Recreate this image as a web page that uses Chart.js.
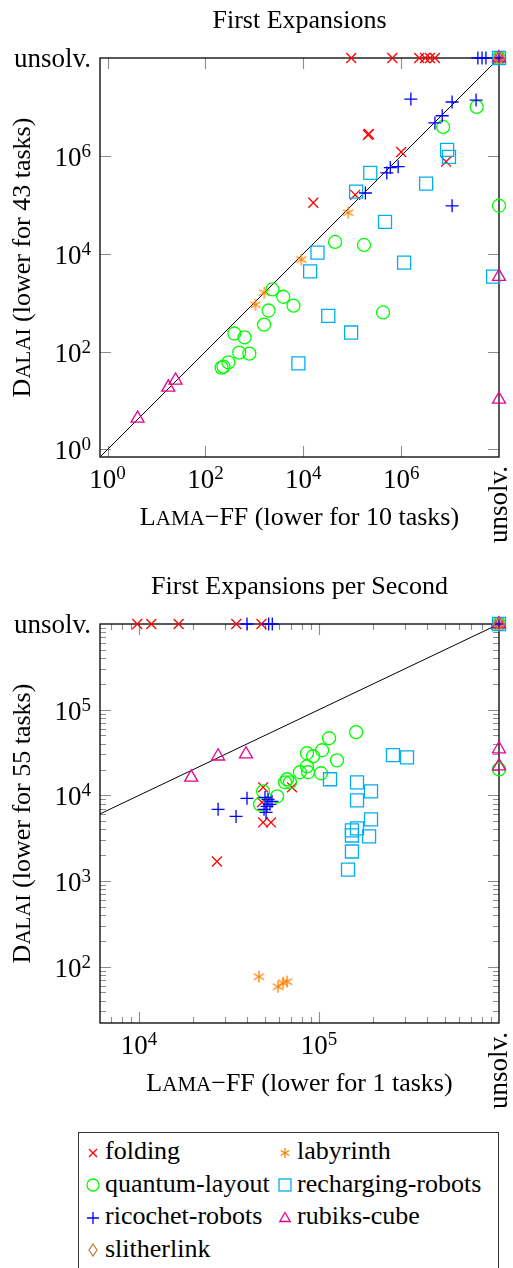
<!DOCTYPE html>
<html>
<head>
<meta charset="utf-8">
<script src="https://cdn.jsdelivr.net/npm/chart.js@4.4.1/dist/chart.umd.min.js"></script>
<style>
  html, body { margin: 0; padding: 0; background: #fff; }
  body { width: 513px; height: 1268px; position: relative; overflow: hidden; font-family: 'Liberation Serif', 'Times New Roman', serif; }
  canvas { position: absolute; left: 0; }
  #fe { top: 0; }
  #fps { top: 565px; }
  #legend { position: absolute; left: 78px; top: 1132px; width: 419px; height: 150px; border: 1px solid #333; }
  .item { position: absolute; font-size: 26px; line-height: 26px; white-space: nowrap; color: #000; }
  .item svg { position: absolute; overflow: visible; }
</style>
</head>
<body>
<canvas id="fe" width="513" height="565"></canvas>
<canvas id="fps" width="513" height="560"></canvas>
<div id="legend"></div>
<script>
// where "unsolv." sits on the log axes
const U1 = 1e8;   // first expansions
const U2 = 1e6;   // first expansions per second

// [Lama-FF, Dalai] pairs, first expansions
const expFolding = [[95500, U1], [661000, U1], [2.34e6, U1], [3.09e6, U1], [3.89e6, U1], [4.9e6, U1],
  [2.1e5, 2.7e6], [2.2e5, 2.8e6], [1.0e6, 1.2e6], [8.3e6, 7.6e5], [1.15e5, 1.6e5], [1.6e4, 1.1e5], [U1, U1]];
const expLabyrinth = [[8.3e4, 6.9e4], [9100, 7600], [1600, 1600], [1050, 910], [U1, U1]];
const expQuantum = [[2340, 1860], [3890, 1320], [6300, 870], [1950, 690], [1580, 355], [390, 234], [630, 195],
  [490, 95], [790, 91], [295, 60], [234, 49], [214, 47], [44700, 17400], [174000, 15100], [427000, 630],
  [7.2e6, 3.9e6], [3.5e7, 1.0e7], [U1, 95500], [U1, U1]];
const expRecharging = [[2.34e5, 4.47e5], [1.2e5, 1.86e5], [8.7e6, 1.32e6], [9.5e6, 9.5e5], [3.24e6, 2.7e5],
  [4.68e5, 4.47e4], [1.95e4, 1.05e4], [1.38e4, 4370], [1.15e6, 6600], [7.6e7, 3390], [3.24e4, 537],
  [9.5e4, 245], [7940, 57.5], [U1, U1]];
const expRicochet = [[3.7e7, U1], [4.5e7, U1], [5.4e7, U1], [1.58e6, 1.45e7], [1.1e7, 1.26e7], [3.4e7, 1.38e7],
  [6.9e6, 6.6e6], [4.9e6, 4.7e6], [8.7e5, 6.0e5], [6.0e5, 5.75e5], [5.1e5, 4.47e5], [1.86e5, 1.74e5],
  [1.1e7, 9.5e4], [U1, U1]];
const expRubiks = [[4.1, 4.3], [17.4, 18.6], [24.5, 25.7], [U1, 3390], [U1, 10.5], [U1, U1]];
const expSlitherlink = [[U1, U1]];

// [Lama-FF, Dalai] pairs, first expansions per second
const rateFolding = [[9770, U2], [11700, U2], [16600, U2], [34700, U2], [47900, U2], [48900, 12400],
  [48200, 8280], [48900, 4830], [54100, 4830], [70800, 12400], [27100, 1690], [U2, U2]];
const rateLabyrinth = [[46400, 76.4], [59200, 58.3], [63100, 65], [66400, 66.8], [U2, U2]];
const rateQuantum = [[160700, 54600], [113700, 46400], [104000, 33600], [92700, 28600], [85700, 31000],
  [125900, 25600], [85700, 21800], [78300, 18600], [86900, 18600], [102600, 18100], [66400, 15400],
  [64700, 14200], [69000, 14200], [58500, 9730], [48900, 11100], [47000, 7850], [U2, 20100], [U2, U2]];
const rateRecharging = [[257600, 29400], [308300, 27800], [115100, 15400], [162600, 14200], [194500, 11100],
  [162600, 8750], [194500, 5240], [162600, 4110], [152400, 3900], [152400, 3400], [189700, 3310],
  [152400, 2210], [144900, 1360], [U2, U2]];
const rateRicochet = [[39800, U2], [52500, U2], [55000, U2], [27500, 6860], [34600, 5680], [39800, 9230],
  [50100, 9480], [52100, 8980], [54800, 8510], [51400, 7430], [49500, 6860], [53400, 7850], [50800, 6310], [U2, U2]];
const rateRubiks = [[27500, 28600], [39300, 30200], [19500, 16200], [U2, 34700], [U2, 21900], [U2, U2]];
const rateSlitherlink = [[U2, U2]];

// tick labels (powers of ten)
const expTicks = [1, 1e2, 1e4, 1e6];
const rateTicksX = [1e4, 1e5];
const rateTicksY = [1e2, 1e3, 1e4, 1e5];

const SERIF = "'Liberation Serif', 'Times New Roman', serif";
const FS = 26, SC = 21, TICK = 27, SUP = 19;

const SERIES = [
  { label: 'folding', style: 'crossRot', r: 7, color: '#ff0000' },
  { label: 'labyrinth', style: 'asterisk', r: 6, color: '#ff8000' },
  { label: 'quantum-layout', style: 'circle', r: 6.5, color: '#00ff00' },
  { label: 'recharging-robots', style: 'rect', r: 9.2, color: '#00aeef' },
  { label: 'ricochet-robots', style: 'cross', r: 6.5, color: '#0000ff' },
  { label: 'rubiks-cube', style: 'triangle', r: 7.5, color: '#ec008c' },
  { label: 'slitherlink', style: 'rectRot', r: 6, color: '#bf8040' }
];

function asteriskImg(color, r) {
  const c = document.createElement('canvas');
  const s = Math.ceil(r * 2 + 4);
  c.width = c.height = s;
  const g = c.getContext('2d');
  g.strokeStyle = color;
  g.lineWidth = 1.3;
  for (let k = 0; k < 3; k++) {
    const t = Math.PI / 2 + k * Math.PI / 3;
    g.beginPath();
    g.moveTo(s / 2 + r * Math.cos(t), s / 2 + r * Math.sin(t));
    g.lineTo(s / 2 - r * Math.cos(t), s / 2 - r * Math.sin(t));
    g.stroke();
  }
  return c;
}

function buildDatasets(lists, lo, hi) {
  const sets = SERIES.map((s, i) => ({
    label: s.label,
    data: lists[i].map(p => ({ x: p[0], y: p[1] })),
    pointStyle: s.style === 'asterisk' ? asteriskImg(s.color, s.r) : s.style,
    pointRadius: s.r,
    pointHoverRadius: s.r,
    borderColor: s.color,
    backgroundColor: 'rgba(0,0,0,0)',
    pointBorderWidth: 1.3,
    borderWidth: 1.3,
    order: SERIES.length - i,
    clip: false
  }));
  // y = x reference line
  sets.push({
    label: 'diagonal', data: [{ x: lo, y: lo }, { x: hi, y: hi }], showLine: true,
    borderColor: '#000', borderWidth: 1, pointRadius: 0, order: 20
  });
  return sets;
}

function minorTicks(lo, hi) {
  const out = [];
  for (let k = Math.floor(Math.log10(lo)); k <= Math.ceil(Math.log10(hi)); k++) {
    for (let m = 2; m <= 9; m++) {
      const v = m * Math.pow(10, k);
      if (v > lo && v < hi) out.push(v);
    }
  }
  return out;
}

function drawRuns(ctx, parts, x, y, align) {
  let w = 0;
  for (const p of parts) { ctx.font = p[1] + 'px ' + SERIF; w += ctx.measureText(p[0]).width; }
  let cx = align === 'center' ? x - w / 2 : align === 'right' ? x - w : x;
  ctx.textAlign = 'left';
  ctx.textBaseline = 'alphabetic';
  ctx.fillStyle = '#000';
  for (const p of parts) {
    ctx.font = p[1] + 'px ' + SERIF;
    ctx.fillText(p[0], cx, y - (p[2] || 0));
    cx += ctx.measureText(p[0]).width;
  }
}
const pow10 = v => [['10', TICK], [String(Math.round(Math.log10(v))), SUP, 9]];

function framePlugin(cfg) {
  return {
    id: 'frame',
    beforeDatasetsDraw(chart) {
      const { ctx, chartArea: a, scales: { x, y } } = chart;
      ctx.save();
      ctx.strokeStyle = '#8c8c8c';
      ctx.lineWidth = 1.1;
      const xs = cfg.xMajor.map(v => [v, 11]).concat(cfg.xMinor.map(v => [v, 6]));
      for (const [v, len] of xs) {
        const px = Math.round(x.getPixelForValue(v)) + 0.5;
        ctx.beginPath();
        ctx.moveTo(px, a.bottom); ctx.lineTo(px, a.bottom - len);
        ctx.moveTo(px, a.top); ctx.lineTo(px, a.top + len);
        ctx.stroke();
      }
      const ys = cfg.yMajor.map(v => [v, 11]).concat(cfg.yMinor.map(v => [v, 6]));
      for (const [v, len] of ys) {
        const py = Math.round(y.getPixelForValue(v)) + 0.5;
        ctx.beginPath();
        ctx.moveTo(a.left, py); ctx.lineTo(a.left + len, py);
        ctx.moveTo(a.right, py); ctx.lineTo(a.right - len, py);
        ctx.stroke();
      }
      ctx.strokeStyle = '#000';
      ctx.lineWidth = 1.3;
      ctx.strokeRect(a.left, a.top, a.right - a.left, a.bottom - a.top);
      ctx.restore();
    },
    afterDraw(chart) {
      const { ctx, chartArea: a, scales: { x, y } } = chart;
      ctx.save();
      drawRuns(ctx, [[cfg.title, FS]], (a.left + a.right) / 2, a.top - 30, 'center');
      for (const v of cfg.xMajor) drawRuns(ctx, pow10(v), x.getPixelForValue(v), a.bottom + 31, 'center');
      for (const v of cfg.yMajor) drawRuns(ctx, pow10(v), a.left - 9, y.getPixelForValue(v) + 10, 'right');
      drawRuns(ctx, [['unsolv.', TICK]], a.left - 9, y.getPixelForValue(cfg.unsolved) + 9, 'right');
      drawRuns(ctx, cfg.xTitle, (a.left + a.right) / 2, a.bottom + 68, 'center');
      // rotated labels
      ctx.save();
      ctx.translate(x.getPixelForValue(cfg.unsolved) + 8, a.bottom + 9);
      ctx.rotate(-Math.PI / 2);
      drawRuns(ctx, [['unsolv.', TICK]], 0, 0, 'right');
      ctx.restore();
      ctx.save();
      ctx.translate(30, (a.top + a.bottom) / 2);
      ctx.rotate(-Math.PI / 2);
      drawRuns(ctx, cfg.yTitle, 0, 0, 'center');
      ctx.restore();
      ctx.restore();
    }
  };
}

function makeChart(id, cfg) {
  return new Chart(document.getElementById(id), {
    type: 'scatter',
    data: { datasets: buildDatasets(cfg.lists, cfg.lineLo, cfg.unsolved) },
    options: {
      responsive: false,
      animation: false,
      events: [],
      layout: { padding: cfg.padding },
      scales: {
        x: { type: 'logarithmic', min: cfg.xMin, max: cfg.unsolved, display: false },
        y: { type: 'logarithmic', min: cfg.yMin, max: cfg.unsolved, display: false }
      },
      plugins: { legend: { display: false }, tooltip: { enabled: false } }
    },
    plugins: [framePlugin(cfg)]
  });
}

// First Expansions
makeChart('fe', {
  title: 'First Expansions',
  lists: [expFolding, expLabyrinth, expQuantum, expRecharging, expRicochet, expRubiks, expSlitherlink],
  xMin: 0.72, yMin: 0.72, lineLo: 0.72, unsolved: U1,
  xMajor: expTicks, yMajor: expTicks, xMinor: [], yMinor: [],
  xTitle: [['L', FS], ['AMA', SC], ['\u2212FF (lower for 10 tasks)', FS]],
  yTitle: [['D', FS], ['ALAI', SC], [' (lower for 43 tasks)', FS]],
  padding: { left: 100, top: 58, right: 14, bottom: 108 }
});

// First Expansions per Second
makeChart('fps', {
  title: 'First Expansions per Second',
  lists: [rateFolding, rateLabyrinth, rateQuantum, rateRecharging, rateRicochet, rateRubiks, rateSlitherlink],
  xMin: 6070, yMin: 22, lineLo: 6070, unsolved: U2,
  xMajor: rateTicksX, yMajor: rateTicksY, xMinor: minorTicks(6070, U2), yMinor: minorTicks(22, U2),
  xTitle: [['L', FS], ['AMA', SC], ['\u2212FF (lower for 1 tasks)', FS]],
  yTitle: [['D', FS], ['ALAI', SC], [' (lower for 55 tasks)', FS]],
  padding: { left: 100, top: 59, right: 14, bottom: 102 }
});

// shared legend box
function markerSvg(style, color) {
  const a = 'fill="none" stroke="' + color + '" stroke-width="1.3"';
  const shapes = {
    crossRot: '<path d="M3 3L11 11M3 11L11 3" ' + a + '/>',
    asterisk: '<path d="M7 2V12M2.7 4.5L11.3 9.5M2.7 9.5L11.3 4.5" ' + a + '/>',
    circle: '<circle cx="7" cy="7" r="6" ' + a + '/>',
    rect: '<rect x="1" y="1" width="12" height="12" ' + a + '/>',
    cross: '<path d="M1 7H13M7 1V13" ' + a + '/>',
    triangle: '<path d="M7 1.5L12.2 10.5H1.8Z" ' + a + '/>',
    rectRot: '<path d="M7 1L11 7L7 13L3 7Z" ' + a + '/>'
  };
  return '<svg width="14" height="14" viewBox="0 0 14 14">' + shapes[style] + '</svg>';
}

const legend = document.getElementById('legend');
SERIES.forEach((s, i) => {
  const row = Math.floor(i / 2), col = i % 2;
  const base = 27 + 32.5 * row;
  const textLeft = col ? 218 : 26;
  const markX = col ? 206 : 14;
  const top = base - 21.8;
  const el = document.createElement('div');
  el.className = 'item';
  el.style.left = textLeft + 'px';
  el.style.top = top + 'px';
  el.innerHTML = markerSvg(s.style, s.color) + '<span>' + s.label + '</span>';
  const svg = el.querySelector('svg');
  svg.style.left = (markX - textLeft - 7) + 'px';
  svg.style.top = (base - 7 - top - 7) + 'px';
  legend.appendChild(el);
});
</script>
</body>
</html>
